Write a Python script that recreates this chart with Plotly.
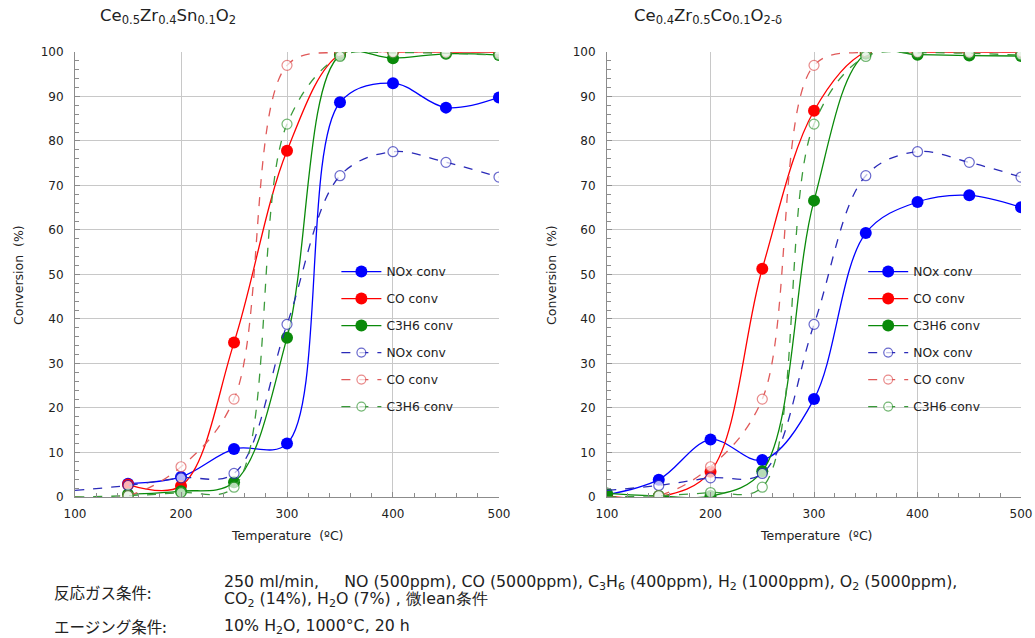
import plotly.graph_objects as go

# ---------------- data ----------------
temps = [100, 150, 200, 250, 300, 350, 400, 450, 500]
temps_sn = [150, 200, 250, 300, 350, 400, 450, 500]

# Left: Ce0.5Zr0.4Sn0.1O2 (solid)
sn_nox = [3.0, 4.5, 10.8, 12.0, 88.7, 93.0, 87.5, 89.8]
sn_co = [2.8, 2.5, 34.7, 77.8, 99.5, 100, 100, 100]
sn_c3h6 = [0.6, 1.3, 3.3, 35.8, 99.3, 98.6, 99.6, 99.3]

# Right: Ce0.4Zr0.5Co0.1O2-d (solid)
co_nox = [0.5, 3.9, 12.9, 8.3, 22.0, 59.3, 66.3, 67.8, 65.1]
co_co = [0.3, 0.0, 5.7, 51.3, 86.8, 100, 100, 100, 100]
co_c3h6 = [0.8, 0.2, 0.2, 5.8, 66.6, 99.6, 99.4, 99.2, 99.1]

# Reference (dashed, same in both panels)
ref_nox = [1.5, 2.6, 4.3, 5.3, 38.8, 72.2, 77.6, 75.2, 71.9]
ref_co = [0.0, 0.3, 6.8, 22.0, 97.0, 100, 100, 100, 100]
ref_c3h6 = [0.0, 0.3, 1.0, 2.2, 83.8, 99.0, 99.8, 99.7, 99.3]

names = ["NOx conv", "CO conv", "C3H6 conv"]
solid_colors = ["#0000ff", "#ff0000", "#0a8a0a"]
dash_colors = ["#2a2ab8", "#e05a5a", "#3a9a3a"]

x_ticks = [100, 200, 300, 400, 500]
y_ticks = [0, 10, 20, 30, 40, 50, 60, 70, 80, 90, 100]

fig = go.Figure()

def add_panel(xa, ya, leg, xs_solid, solid_series):
    for i, (vals, name) in enumerate(zip(solid_series, names)):
        fig.add_trace(go.Scatter(
            x=xs_solid, y=vals, name=name, mode="lines+markers",
            line=dict(color=solid_colors[i], width=1.3, shape="spline", smoothing=1.0),
            marker=dict(color=solid_colors[i], size=12, line=dict(width=0)),
            xaxis=xa, yaxis=ya, legend=leg, legendgroup=leg + "s" + str(i),
            legendrank=i + 1,
        ))
    ref_series = [ref_nox, ref_co, ref_c3h6]
    for i, (vals, name) in enumerate(zip(ref_series, names)):
        sizes = [0] + [10] * (len(temps) - 1)
        fig.add_trace(go.Scatter(
            x=temps, y=vals, name=name, mode="lines+markers",
            line=dict(color=dash_colors[i], width=1.3, dash="dash", shape="spline", smoothing=1.0),
            marker=dict(color="white", size=sizes, line=dict(color=dash_colors[i], width=1.2)),
            xaxis=xa, yaxis=ya, legend=leg, legendgroup=leg + "d" + str(i),
            legendrank=i + 4,
        ))

add_panel("x", "y", "legend", temps_sn, [sn_nox, sn_co, sn_c3h6])
add_panel("x2", "y2", "legend2", temps, [co_nox, co_co, co_c3h6])

grid_c = "#c8c8c8"
line_c = "#8c8c8c"
tick_font = dict(family="DejaVu Sans", size=12, color="#222222")

def xaxis_cfg(dom, anchor):
    return dict(
        domain=dom, range=[100, 500], tickvals=x_ticks, showgrid=True, gridcolor=grid_c,
        gridwidth=1, showline=True, linecolor=line_c, linewidth=1, ticks="inside",
        ticklen=5, tickcolor=line_c, tickfont=tick_font, zeroline=False,
        minor=dict(dtick=20, tick0=100, ticks="inside", ticklen=4, tickcolor=line_c, showgrid=False),
        ticklabelstandoff=6, fixedrange=True, anchor=anchor, automargin=False,
    )

def yaxis_cfg(anchor):
    return dict(
        domain=[0.2210, 0.9185], range=[0, 100], tickvals=y_ticks, showgrid=True,
        gridcolor=grid_c, gridwidth=1, showline=True, linecolor=line_c, linewidth=1,
        ticks="inside", ticklen=5, tickcolor=line_c, tickfont=tick_font, zeroline=False,
        minor=dict(dtick=2, tick0=0, ticks="inside", ticklen=4, tickcolor=line_c, showgrid=False),
        anchor=anchor, ticklabelstandoff=8, fixedrange=True, automargin=False,
    )

legend_common = dict(
    font=dict(family="DejaVu Sans", size=12.3, color="#222222"),
    bgcolor="rgba(0,0,0,0)", borderwidth=0, traceorder="grouped",
    tracegroupgap=8, yanchor="top", xanchor="left", itemwidth=40,
)

fig.update_layout(
    width=1035, height=638,
    margin=dict(l=0, r=0, t=0, b=0, autoexpand=False),
    paper_bgcolor="white", plot_bgcolor="white",
    xaxis=xaxis_cfg([0.0725, 0.4821], "y"),
    yaxis=yaxis_cfg("x"),
    xaxis2=xaxis_cfg([0.5865, 0.9865], "y2"),
    yaxis2=yaxis_cfg("x2"),
    legend=dict(x=0.325, y=0.597, **legend_common),
    legend2=dict(x=0.834, y=0.597, **legend_common),
    showlegend=True,
)

ann = []
title_font = dict(family="DejaVu Sans", size=16.5, color="#222222")
ann.append(dict(text="Ce<sub>0.5</sub>Zr<sub>0.4</sub>Sn<sub>0.1</sub>O<sub>2</sub>",
                x=98 / 1035, y=1 - 17 / 638, xref="paper", yref="paper",
                xanchor="left", yanchor="middle", showarrow=False, font=title_font))
ann.append(dict(text="Ce<sub>0.4</sub>Zr<sub>0.5</sub>Co<sub>0.1</sub>O<sub>2-δ</sub>",
                x=632 / 1035, y=1 - 16 / 638, xref="paper", yref="paper",
                xanchor="left", yanchor="middle", showarrow=False, font=title_font))

axis_title_font = dict(family="DejaVu Sans", size=12.5, color="#222222")
for cx in [287, 816]:
    ann.append(dict(text="Temperature  (ºC)", x=cx / 1035, y=1 - 535 / 638,
                    xref="paper", yref="paper", xanchor="center", yanchor="middle",
                    showarrow=False, font=axis_title_font))
for cx in [18, 551]:
    ann.append(dict(text="Conversion  (%)", x=cx / 1035, y=1 - 275 / 638,
                    xref="paper", yref="paper", xanchor="center", yanchor="middle",
                    showarrow=False, textangle=-90, font=axis_title_font))

jp_font = dict(family="Noto Sans CJK JP", size=15.5, color="#222222")
en_font = dict(family="DejaVu Sans", size=15.8, color="#222222")
ann.append(dict(text="反応ガス条件:", x=52 / 1035, y=1 - 592 / 638, xref="paper", yref="paper",
                xanchor="left", yanchor="middle", showarrow=False, font=jp_font))
ann.append(dict(text="エージング条件:", x=52 / 1035, y=1 - 626 / 638, xref="paper", yref="paper",
                xanchor="left", yanchor="middle", showarrow=False, font=jp_font))
ann.append(dict(text="250 ml/min,&nbsp;&nbsp;&nbsp;&nbsp; NO (500ppm), CO (5000ppm), C<sub>3</sub>H<sub>6</sub> (400ppm), "
                     "H<sub>2</sub> (1000ppm), O<sub>2</sub> (5000ppm),",
                x=222 / 1035, y=1 - 582 / 638, xref="paper", yref="paper",
                xanchor="left", yanchor="middle", showarrow=False, font=en_font))
ann.append(dict(text="CO<sub>2</sub> (14%), H<sub>2</sub>O (7%) , 微lean条件",
                x=222 / 1035, y=1 - 599 / 638, xref="paper", yref="paper",
                xanchor="left", yanchor="middle", showarrow=False, font=en_font))
ann.append(dict(text="10% H<sub>2</sub>O, 1000°C, 20 h",
                x=222 / 1035, y=1 - 626 / 638, xref="paper", yref="paper",
                xanchor="left", yanchor="middle", showarrow=False, font=en_font))

fig.update_layout(annotations=ann)

fig.write_html(
    "out.html",
    config={"displayModeBar": False},
    post_script="document.body.style.margin='0';document.body.style.padding='0';"
                "document.documentElement.style.overflow='hidden';",
)
